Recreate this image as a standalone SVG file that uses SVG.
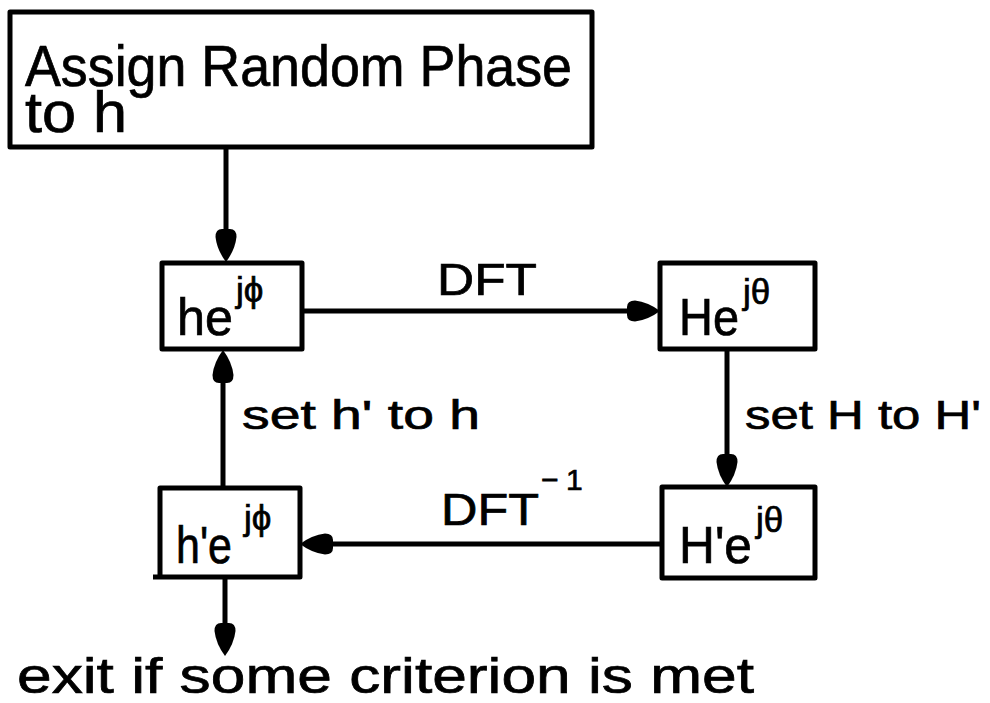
<svg xmlns="http://www.w3.org/2000/svg" xmlns:xlink="http://www.w3.org/1999/xlink" width="990" height="703" viewBox="0 0 990 703">
  <style>
    .box { fill: #fff; stroke: #000; stroke-width: 5; stroke-linejoin: round; }
    .wire { fill: none; stroke: #000; stroke-width: 5; }
    .head { fill: #000; }
    text { font-family: "Liberation Sans", Arial, sans-serif; fill: #000; stroke: #000; stroke-width: 0.7; }
    .big { font-size: 57px; }
    .lbl { font-size: 52px; }
    .sup { font-size: 35px; }
    .exp { font-size: 30px; }
    .edge { font-size: 45px; }
    .note { font-size: 41px; }
    .foot { font-size: 50px; }
  </style>
  <defs>
    <!-- full kite-shaped arrowhead, tip at the origin, pointing along +x -->
    <path id="arrowhead" d="M0,0 Q-12,-9 -25,-10.5 Q-33,-10.5 -33,-4 L-33,4 Q-33,10.5 -25,10.5 Q-12,9 0,0 Z"/>
  </defs>

  <rect width="990" height="703" fill="#fff"/>

  <!-- connectors -->
  <g id="connectors">
    <path class="wire" d="M226,147 L226,234"/>
    <use class="head" xlink:href="#arrowhead" transform="translate(226,262) rotate(90)"/>

    <path class="wire" d="M302,311 L632,311"/>
    <use class="head" xlink:href="#arrowhead" transform="translate(660,311)"/>

    <path class="wire" d="M727,350 L727,459"/>
    <use class="head" xlink:href="#arrowhead" transform="translate(727,487) rotate(90)"/>

    <path class="wire" d="M662,544 L328,544"/>
    <use class="head" xlink:href="#arrowhead" transform="translate(300,544) rotate(180)"/>

    <path class="wire" d="M223,488 L223,378"/>
    <use class="head" xlink:href="#arrowhead" transform="translate(223,350) rotate(-90)"/>

    <path class="wire" d="M225,578 L225,628"/>
    <use class="head" xlink:href="#arrowhead" transform="translate(225,656) rotate(90)"/>

    <text class="edge" x="437" y="295" textLength="100" lengthAdjust="spacingAndGlyphs">DFT</text>
    <text class="edge" x="441" y="525" textLength="98" lengthAdjust="spacingAndGlyphs">DFT</text>
    <text class="exp" x="541" y="490">−</text>
    <text class="exp" x="566" y="490">1</text>
    <text class="note" x="242" y="429" textLength="238" lengthAdjust="spacingAndGlyphs">set h' to h</text>
    <text class="note" x="745" y="429" textLength="236" lengthAdjust="spacingAndGlyphs">set H to H'</text>
  </g>

  <!-- start block -->
  <g id="start">
    <rect class="box" x="10" y="12" width="582" height="135"/>
    <text class="big">
      <tspan x="25" y="86" textLength="547" lengthAdjust="spacingAndGlyphs">Assign Random Phase</tspan>
      <tspan x="25" y="132" textLength="102" lengthAdjust="spacingAndGlyphs">to h</tspan>
    </text>
  </g>

  <g id="h_phase">
    <rect class="box" x="162" y="263" width="140" height="86"/>
    <text class="lbl" x="177" y="335" textLength="56" lengthAdjust="spacingAndGlyphs">he</text>
    <text class="sup" x="236" y="302">jϕ</text>
  </g>

  <g id="H_theta">
    <rect class="box" x="660" y="263" width="155" height="86"/>
    <text class="lbl" x="679" y="335" textLength="60" lengthAdjust="spacingAndGlyphs">He</text>
    <text class="sup" x="743" y="304">jθ</text>
  </g>

  <g id="Hp_theta">
    <rect class="box" x="662" y="487" width="153" height="91"/>
    <text class="lbl" x="679" y="563" textLength="73" lengthAdjust="spacingAndGlyphs">H'e</text>
    <text class="sup" x="756" y="532">jθ</text>
  </g>

  <g id="hp_phase">
    <path class="box" d="M160,577 L160,488 L300,488 L300,577 L153,577"/>
    <text class="lbl" x="176" y="563" textLength="56" lengthAdjust="spacingAndGlyphs">h'e</text>
    <text class="sup" x="244" y="530">jϕ</text>
  </g>

  <g id="exit">
    <text class="foot" x="17" y="693" textLength="737" lengthAdjust="spacingAndGlyphs">exit if some criterion is met</text>
  </g>
</svg>
